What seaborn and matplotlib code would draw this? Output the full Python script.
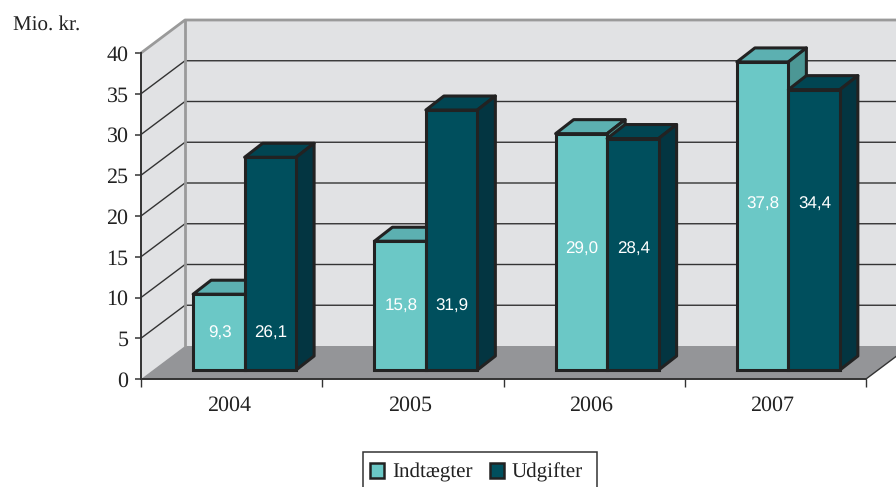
import seaborn as sns
import pandas as pd
import matplotlib.pyplot as plt
from matplotlib.patches import Polygon, Rectangle

# values
years = ['2004', '2005', '2006', '2007']
indtaegter = [9.3, 15.8, 29.0, 37.8]
udgifter = [26.1, 31.9, 28.4, 34.4]
series_names = ['Indtægter', 'Udgifter']
label_y = [4.5, 7.8, 14.85, 20.3]  # the labels sit at one height per year
y_ticks = [0, 5, 10, 15, 20, 25, 30, 35, 40]

df = pd.DataFrame({
    'year': years * 2,
    'value': indtaegter + udgifter,
    'serie': [series_names[0]] * 4 + [series_names[1]] * 4,
})

W, H = 896, 487
LIGHT = ['#6bc8c6', '#5cb0b1', '#4c9795']
DARK = ['#004f5d', '#014552', '#033541']
EDGE = '#222222'

sns.set_theme(style='white')
plt.rcParams['font.family'] = ['Liberation Serif']
plt.rcParams['text.hinting'] = 'none'
plt.rcParams['text.hinting_factor'] = 1

fig = plt.figure(figsize=(W / 100, H / 100), dpi=100)
ax = fig.add_axes([141 / W, 1 - 379 / H, 725 / W, 326 / H])
ax.patch.set_visible(False)

sns.barplot(data=df, x='year', y='value', hue='serie',
            palette=[LIGHT[0], DARK[0]], width=0.568, dodge=True,
            saturation=1, edgecolor=EDGE, linewidth=2.2, ax=ax)
ax.set_xlim(-0.5, 3.5)
ax.set_ylim(0, 40)
ax.set_xlabel('')
ax.set_ylabel('')

# depth of the room and of the bars, in data units
room_x, room_y = 44 / 181.25, 33 / 8.15
depth_x, depth_y = 18 / 181.25, 14 / 8.15
shift_x, shift_y = 13 / 181.25, 9 / 8.15
x0, x1 = -0.5, 3.5


def poly(points, color, z, edge='none', lw=0):
    ax.add_patch(Polygon(points, closed=True, facecolor=color, edgecolor=edge,
                         linewidth=lw, zorder=z, clip_on=False, joinstyle='round'))


# walls and floor
poly([(x0, 0), (x0, 40), (x0 + room_x, 40 + room_y), (x0 + room_x, room_y)], '#e1e2e4', 0.5)
poly([(x0 + room_x, room_y), (x0 + room_x, 40 + room_y), (x1 + room_x, 40 + room_y), (x1 + room_x, room_y)],
     '#e1e2e4', 0.5)
poly([(x0, 0), (x0 + room_x, room_y), (x1 + room_x, room_y), (x1, 0)], '#949598', 0.6)

for t in y_ticks[1:-1]:
    ax.plot([x0, x0 + room_x, x1 + room_x], [t, t + room_y, t + room_y],
            color='#333333', lw=1, zorder=0.7, clip_on=False)
# grey edges of the room
ax.plot([x0, x0 + room_x, x1 + room_x], [40, 40 + room_y, 40 + room_y],
        color='#9a9a9a', lw=2, zorder=0.8, clip_on=False)
ax.plot([x0 + room_x, x0 + room_x], [room_y, 40 + room_y],
        color='#9a9a9a', lw=2, zorder=0.8, clip_on=False)
ax.plot([x1, x1 + room_x], [0, room_y], color='#333333', lw=1, zorder=0.8, clip_on=False)

# bars: move fronts into the room, then add top and side
z = 2
for cont, cols in zip(ax.containers[:2], [LIGHT, DARK]):
    for bar in cont:
        bar.set_x(bar.get_x() + shift_x)
        bar.set_y(shift_y)
        bar.set_zorder(z + 1)
        bar.set_clip_on(False)
        bar.set_joinstyle('miter')
        xa, w, h = bar.get_x(), bar.get_width(), bar.get_height()
        ya = shift_y
        poly([(xa, ya + h), (xa + depth_x, ya + h + depth_y),
              (xa + w + depth_x, ya + h + depth_y), (xa + w, ya + h)], cols[1], z, EDGE, 2.2)
        poly([(xa + w, ya), (xa + w, ya + h), (xa + w + depth_x, ya + h + depth_y),
              (xa + w + depth_x, ya + depth_y)], cols[2], z, EDGE, 2.2)
    z += 2

# value labels
for cont, vals in zip(ax.containers[:2], [indtaegter, udgifter]):
    for bar, v, ly in zip(cont, vals, label_y):
        ax.text(bar.get_x() + bar.get_width() / 2 + 0.004, ly + shift_y,
                f'{v:.1f}'.replace('.', ','), color='white', ha='center', va='center',
                family='Liberation Sans', fontsize=12, zorder=10)

# axes
sns.despine(ax=ax, top=True, right=True)
for s in ['left', 'bottom']:
    ax.spines[s].set_color('#333333')
    ax.spines[s].set_linewidth(1.4)
    ax.spines[s].set_zorder(1)
ax.set_yticks(y_ticks)
ax.set_xticks([-0.5, 0.5, 1.5, 2.5, 3.5])
ax.set_xticklabels([])
ax.tick_params(axis='y', left=True, length=4.5, width=1.1, color='#333333',
               labelsize=15.5, labelcolor='#222222', pad=4.5)
ax.tick_params(axis='x', bottom=True, length=5.5, width=1, color='#333333')
for i, yr in enumerate(years):
    ax.annotate(yr, (i, 0), xytext=(-3, -26), xycoords='data', textcoords=('offset pixels'),
                ha='center', va='center', fontsize=15.5, color='#222222')

fig.text(13 / W, 1 - 25 / H, 'Mio. kr.', fontsize=15.2, color='#222222', ha='left', va='center')

# legend: its box runs off the lower edge of the figure, so the frame is drawn apart
sns.move_legend(ax, 'upper left', bbox_to_anchor=(370 / W, 1 - 463 / H), bbox_transform=fig.transFigure,
                ncol=2, title=None, frameon=False, fontsize=15.4, handlelength=0.67, handleheight=0.67,
                handletextpad=0.36, columnspacing=0.8, borderpad=0, borderaxespad=0)
leg = ax.get_legend()
leg.set_zorder(20)
for t in leg.get_texts():
    t.set_color('#222222')
for h in leg.get_patches():
    h.set_linewidth(1.8)
fig.add_artist(Rectangle((363 / W, -5 / H), 234 / W, 40 / H, transform=fig.transFigure,
                         facecolor='none', edgecolor='#333333', linewidth=1.1))

fig.savefig('out.png', dpi=100)
